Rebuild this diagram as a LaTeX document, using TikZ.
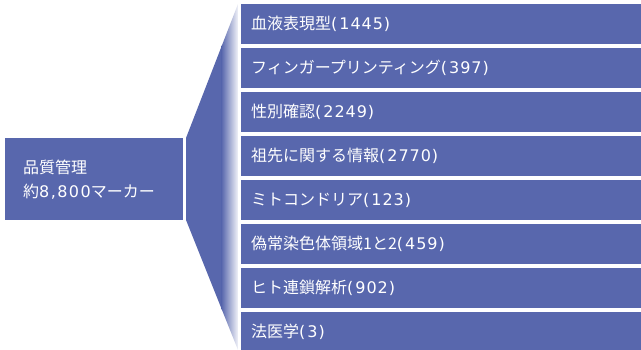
\documentclass[tikz,border=0pt]{standalone}
\usepackage{fontspec}
\newfontfamily\jp{Noto Sans CJK JP}
\newfontfamily\jpnum[LetterSpace=6]{DejaVu Sans}
\newfontfamily\jpnumw[LetterSpace=9]{DejaVu Sans}
\newcommand{\lbl}[2]{#1{\jpnum(\kern2pt#2)}}
\definecolor{bl}{HTML}{5867AD}
\begin{document}
\begin{tikzpicture}[x=1pt,y=-1pt,
  catbox/.style={fill=bl,draw=none,minimum width=400pt,minimum height=40pt,anchor=north west,inner sep=0pt,text=white,font=\jp\fontsize{16}{18}\selectfont,align=left,text width=400pt},
  mainbox/.style={fill=bl,draw=none,minimum width=178pt,minimum height=82pt,anchor=north west,inner sep=0pt,text=white,font=\jp\fontsize{16}{24}\selectfont,align=left,text width=178pt}]
\useasboundingbox (0,0) rectangle (641,350);
\fill[white] (0,0) rectangle (641,350);
% funnel
\begin{scope}
\clip (186,138) -- (238,4) -- (238,350) -- (186,220) -- cycle;
\fill[bl] (180,0) rectangle (222,350);
\shade[left color=bl,right color=white!92!bl] (221.5,0) rectangle (238,350);
\end{scope}
\node[mainbox] (q) at (5,138) {\hspace*{18pt}品質管理\\\hspace*{18pt}約{\jpnumw 8,800}マーカー};
\foreach \i/\a/\b in {1/血液表現型/1445,2/フィンガープリンティング/397,3/性別確認/2249,4/祖先に関する情報/2770,5/ミトコンドリア/123,6/偽常染色体領域1と2/459,7/ヒト連鎖解析/902,8/法医学/3}{
  \node[catbox] (b\i) at (241,{4+44*(\i-1)}) {\hspace*{10pt}\lbl{\a}{\b}};
}
\end{tikzpicture}
\end{document}
